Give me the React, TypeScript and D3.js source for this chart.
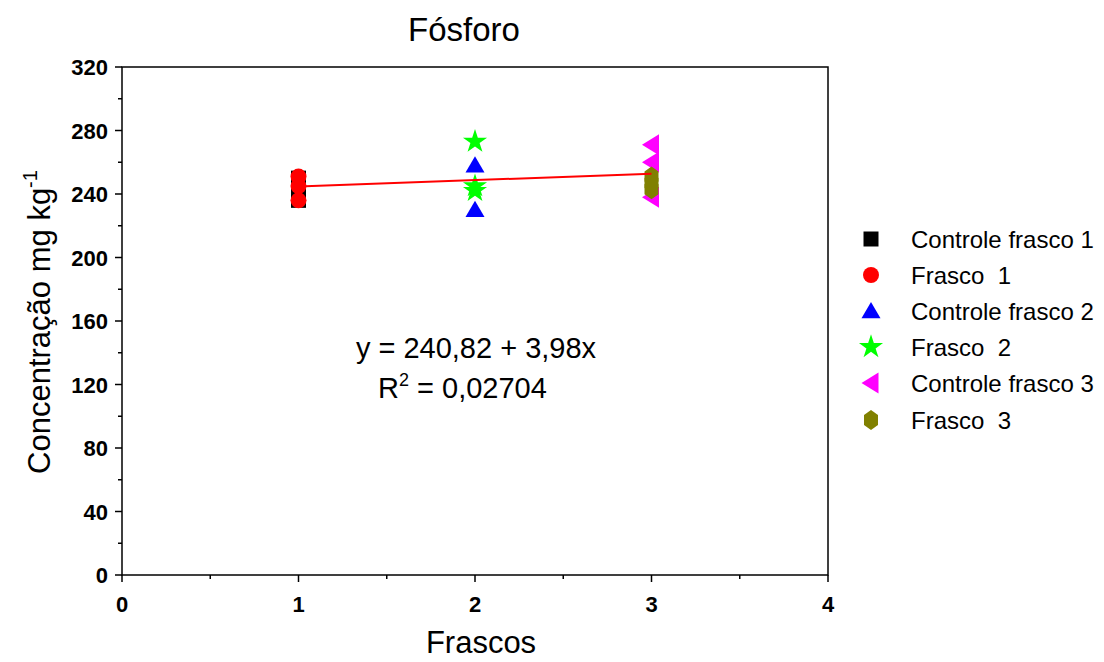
import React from "react";
import * as d3 from "d3";

const seriesNames = ["Controle frasco 1", "Frasco  1", "Controle frasco 2", "Frasco  2", "Controle frasco 3", "Frasco  3"];
const seriesColors = ["#000000", "#ff0000", "#0000ff", "#00ff00", "#ff00ff", "#808000"];
const seriesShapes = ["square", "circle", "triangle", "star", "left", "hexagon"];
const seriesX = [1, 1, 2, 2, 3, 3];
const controle1 = [236, 243, 250];
const frasco1 = [236, 245, 251];
const controle2 = [230, 258];
const frasco2 = [242, 245, 273];
const controle3 = [238, 260, 271];
const frasco3 = [243, 247, 251];
const seriesValues = [controle1, frasco1, controle2, frasco2, controle3, frasco3];
const xTicks = [0, 1, 2, 3, 4];
const yTicks = [0, 40, 80, 120, 160, 200, 240, 280, 320];
const intercept = 240.82;
const slope = 3.98;
const fitRange = [1, 3];

function markerPath(shape: string, s: number): string {
  switch (shape) {
    case "square":
      return `M${-s / 2},${-s / 2}h${s}v${s}h${-s}Z`;
    case "circle":
      return d3.symbol(d3.symbolCircle, Math.PI * (s / 2 + 0.5) * (s / 2 + 0.5))()!;
    case "triangle": {
      const h = s * 0.95;
      return `M0,${-h / 2 - 2}L${s / 2 + 2},${h / 2}L${-s / 2 - 2},${h / 2}Z`;
    }
    case "star":
      return d3.symbol(d3.symbolStar, s * s * 0.8)()!;
    case "left": {
      return `M${-s / 2 - 2},0L${s / 2},${-s / 2 - 3}L${s / 2},${s / 2 + 3}Z`;
    }
    case "hexagon": {
      const r = s / 2 + 2;
      const pts = d3.range(6).map((i) => {
        const a = (Math.PI / 3) * i - Math.PI / 2;
        return [Math.cos(a) * r * 0.85, Math.sin(a) * r * 1.05];
      });
      return "M" + pts.map((p) => p.join(",")).join("L") + "Z";
    }
  }
  return "";
}

export default function App() {
  const W = 1104, H = 662;
  const L = 122, R = 828, T = 67, B = 575;
  const x = d3.scaleLinear().domain([0, 4]).range([L, R]);
  const y = d3.scaleLinear().domain([0, 320]).range([B, T]);
  const font = "Arial, 'Liberation Sans', sans-serif";
  const xMinor = d3.range(0.5, 4, 1);
  const yMinor = d3.range(20, 320, 40);
  const legendY = [239, 275, 311, 347, 383, 420];

  return (
    <svg width={W} height={H} style={{ position: "absolute", left: 0, top: 0 }} fontFamily={font}>
      <rect width={W} height={H} fill="#fff" />
      <text x={464} y={41} fontSize={33} textAnchor="middle">Fósforo</text>
      <rect x={L} y={T} width={R - L} height={B - T} fill="none" stroke="#000" strokeWidth={1.5} />
      {xTicks.map((t) => (
        <g key={"xt" + t}>
          <line x1={x(t)} x2={x(t)} y1={B} y2={B + 7} stroke="#000" strokeWidth={1.5} />
          <text x={x(t)} y={B + 37} fontSize={22} fontWeight="bold" textAnchor="middle">{t}</text>
        </g>
      ))}
      {xMinor.map((t) => (
        <line key={"xm" + t} x1={x(t)} x2={x(t)} y1={B} y2={B + 4} stroke="#000" strokeWidth={1.5} />
      ))}
      {yTicks.map((t) => (
        <g key={"yt" + t}>
          <line x1={L - 7} x2={L} y1={y(t)} y2={y(t)} stroke="#000" strokeWidth={1.5} />
          <text x={L - 14} y={y(t) + 8} fontSize={22} fontWeight="bold" textAnchor="end">{t}</text>
        </g>
      ))}
      {yMinor.map((t) => (
        <line key={"ym" + t} x1={L - 4} x2={L} y1={y(t)} y2={y(t)} stroke="#000" strokeWidth={1.5} />
      ))}
      <text x={481} y={653} fontSize={31} textAnchor="middle">Frascos</text>
      <text transform={`translate(50,322) rotate(-90)`} fontSize={31} textAnchor="middle">
        Concentração mg kg<tspan dy={-13} fontSize={20}>-1</tspan>
      </text>
      {seriesValues.map((vals, si) =>
        vals.map((v, i) => (
          <path
            key={si + "-" + i}
            d={markerPath(seriesShapes[si], 15)}
            transform={`translate(${x(seriesX[si])},${y(v)})`}
            fill={seriesColors[si]}
          />
        ))
      )}
      <line
        x1={x(fitRange[0])}
        x2={x(fitRange[1])}
        y1={y(intercept + slope * fitRange[0])}
        y2={y(intercept + slope * fitRange[1])}
        stroke="#ff0000"
        strokeWidth={2}
      />
      <text x={476} y={358} fontSize={29} textAnchor="middle">y = 240,82 + 3,98x</text>
      <text x={378} y={398} fontSize={29}>
        R<tspan dy={-12} fontSize={18}>2</tspan><tspan dy={12}> = 0,02704</tspan>
      </text>
      {seriesNames.map((n, i) => (
        <g key={"lg" + i}>
          <path d={markerPath(seriesShapes[i], 15)} transform={`translate(871,${legendY[i]})`} fill={seriesColors[i]} />
          <text x={911} y={legendY[i] + 9} fontSize={24} style={{ whiteSpace: "pre" }}>{n}</text>
        </g>
      ))}
    </svg>
  );
}
